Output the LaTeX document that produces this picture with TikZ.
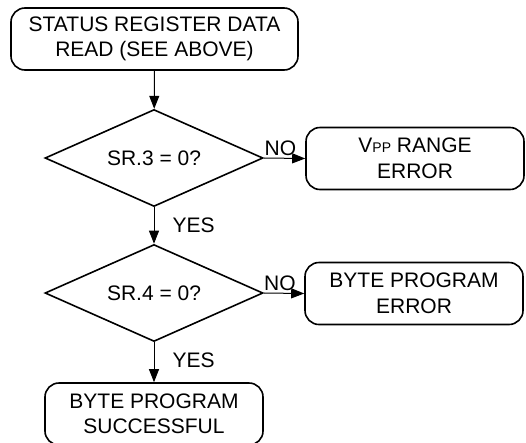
\documentclass[tikz,border=0pt]{standalone}
\usepackage{fontspec}
\setmainfont{Liberation Sans}
\usetikzlibrary{shapes.geometric,arrows.meta}
\tikzset{
  box/.style={draw, line width=1.6pt, rounded corners=14pt, minimum width=218pt, minimum height=62pt, inner sep=0pt, align=center, font=\fontsize{21}{25.5}\selectfont},
  dia/.style={draw, line width=1.6pt, diamond, aspect=2.27, minimum width=218pt, minimum height=97pt, inner sep=0pt, font=\fontsize{21}{25.5}\selectfont},
  flow/.style={line width=1pt, -{Triangle[length=13pt,width=10pt]}},
  lbl/.style={inner sep=0pt, font=\fontsize{21}{25.5}\selectfont}
}
\begin{document}
\begin{tikzpicture}[x=1pt,y=-1pt]
\clip (0,0) rectangle (526,442);
\useasboundingbox (0,0) rectangle (526,442);
\node[box, minimum width=287pt] (start) at (154.5,39) {STATUS REGISTER DATA\\READ (SEE ABOVE)};
\node[dia] (d1) at (154,158) {SR.3 = 0?};
\node[box] (e1) at (415,158.5) {V{\fontsize{14}{14}\selectfont PP} RANGE\\ERROR};
\node[dia] (d2) at (154,293) {SR.4 = 0?};
\node[box] (e2) at (414,293.5) {BYTE PROGRAM\\ERROR};
\node[box] (ok) at (154,414) {BYTE PROGRAM\\SUCCESSFUL};
\draw[flow] (start) -- (d1);
\draw[flow] (d1) -- (d2) node[lbl, pos=0.5, anchor=west, xshift=18pt] (y1) {YES};
\draw[flow] (d2) -- (ok) node[lbl, pos=0.45, anchor=west, xshift=18pt] (y2) {YES};
\draw[flow] (d1.east) -- (e1.west) node[lbl, pos=0.4, anchor=south, yshift=2pt] (n1) {NO};
\draw[flow] (d2.east) -- (e2.west) node[lbl, pos=0.4, anchor=south, yshift=2pt] (n2) {NO};
\end{tikzpicture}
\end{document}
